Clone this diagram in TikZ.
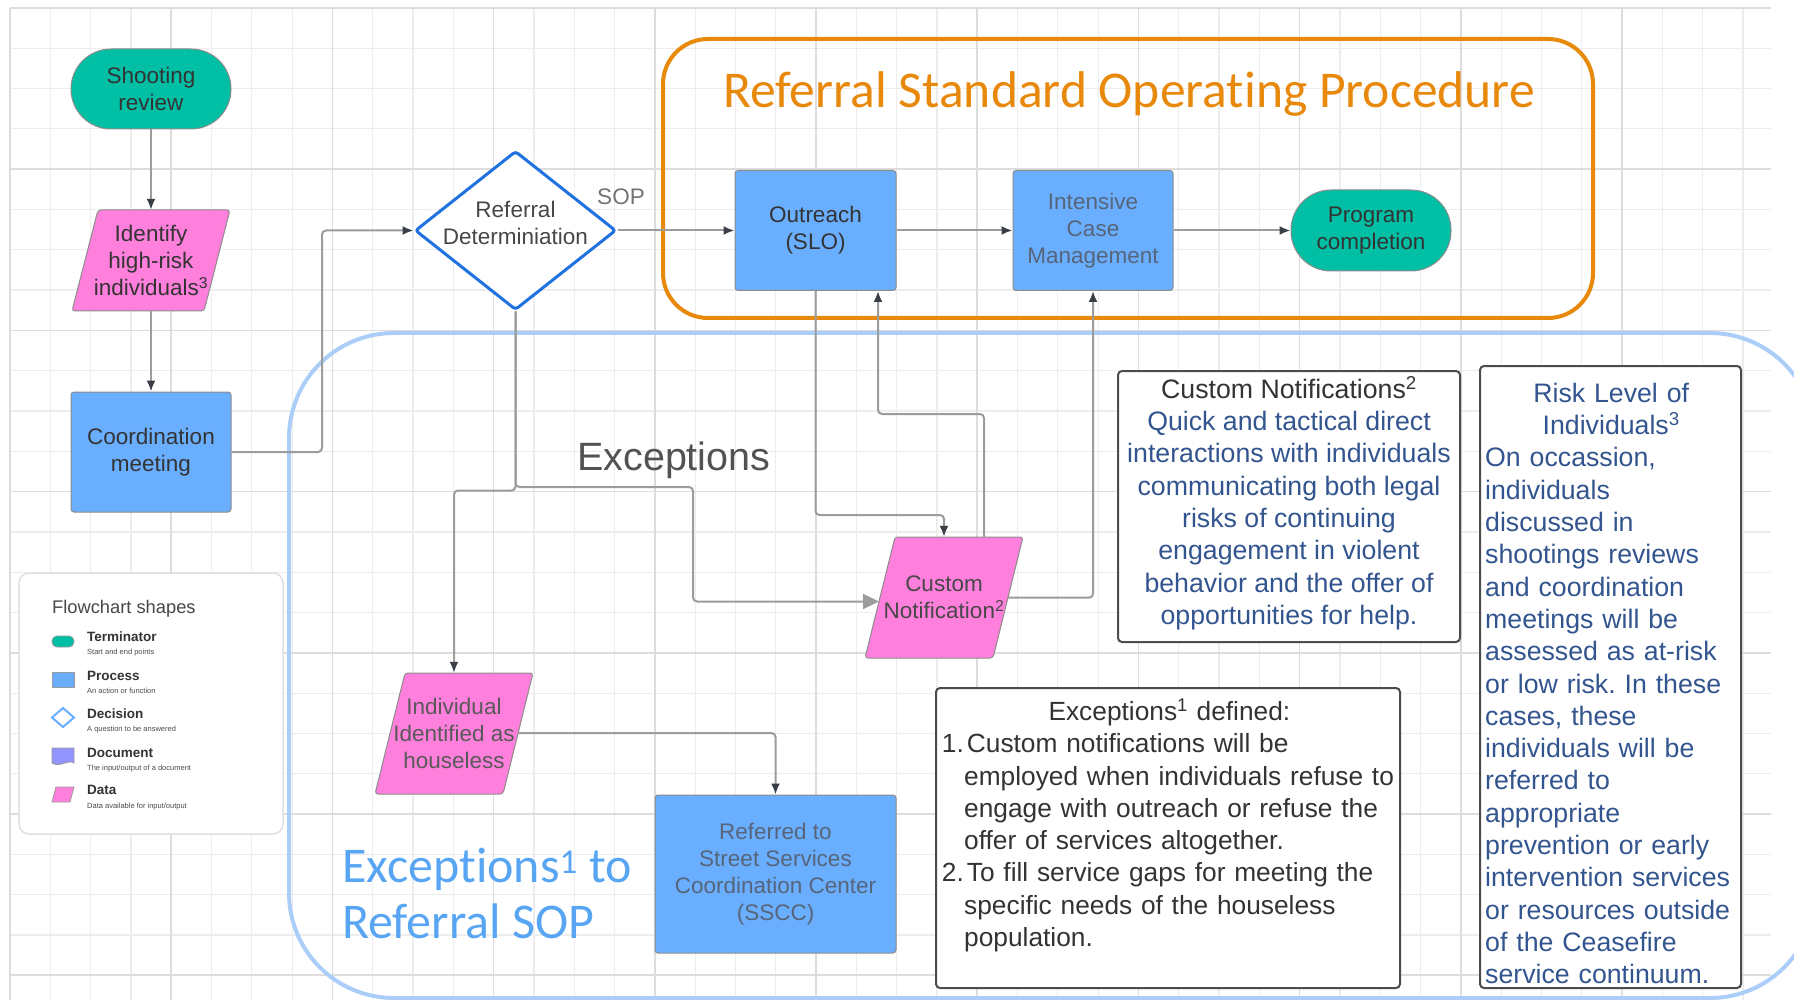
\documentclass[tikz,border=0pt]{standalone}
\usepackage{fontspec}
\setmainfont{Liberation Sans}
\newfontfamily\calib[Ligatures=NoCommon]{Carlito}
\usetikzlibrary{shapes.geometric,arrows.meta,calc}
\definecolor{teal1}{HTML}{00BFA5}
\definecolor{procblue}{HTML}{6AAEFF}
\definecolor{pinkd}{HTML}{FF7FDC}
\definecolor{orng}{HTML}{E8890C}
\definecolor{lblue}{HTML}{ABCEF9}
\definecolor{dblue}{HTML}{1F72E0}
\definecolor{conng}{HTML}{9C9C9C}
\definecolor{tipc}{HTML}{3A3F47}
\definecolor{txtd}{HTML}{333333}
\definecolor{txtg}{HTML}{56657A}
\definecolor{txtb}{HTML}{33558F}
\definecolor{excblue}{HTML}{58A6F3}
\definecolor{gridminor}{HTML}{EDEDED}
\definecolor{gridmajor}{HTML}{DDDDDD}
\definecolor{docpurple}{HTML}{9393FF}
\newcommand{\fsz}[2]{\fontsize{#1}{#2}\selectfont}
\frenchspacing
\begin{document}
\begin{tikzpicture}[x=1pt,y=-1pt,
  conn/.style={draw=conng, line width=2pt, rounded corners=4pt},
  arr/.style={-{Latex[length=11pt,width=9pt,color=tipc]}},
  bigarr/.style={-{Triangle[length=16pt,width=15pt,color=conng]}},
  nodetext/.style={align=center, inner sep=0pt, text=txtd, font=\fsz{22.5pt}{27pt}},
  proc/.style={nodetext, draw=black!45, line width=1pt, fill=procblue, rounded corners=3pt},
  term/.style={nodetext, draw=black!45, line width=1pt, fill=teal1, rounded corners=40pt, minimum width=160pt, minimum height=80pt},
  datashape/.style={draw=black!45, line width=1pt, fill=pinkd, rounded corners=3pt},
  infobox/.style={draw=black!70, line width=2pt, fill=white, rounded corners=4pt, inner sep=0pt},
  bodytext/.style={inner sep=0pt, font=\fsz{26.7pt}{32.3pt}},
  leglabel/.style={anchor=base west, inner sep=0pt, text=txtd, font=\bfseries\fsz{13.5pt}{16pt}},
  legsub/.style={anchor=base west, inner sep=0pt, text=black!70, font=\fsz{7.5pt}{9pt}}
]
\useasboundingbox (0,0) rectangle (1794,1000);
\fill[white] (0,0) rectangle (1794,1000);

% grid
\foreach \i in {0,...,43} {
  \pgfmathsetmacro\xx{10+40.3*\i}
  \draw[gridminor, line width=1.2pt] (\xx,8) -- (\xx,1000);
}
\foreach \j in {0,...,24} {
  \pgfmathsetmacro\yy{8+40.3*\j}
  \draw[gridminor, line width=1.2pt] (10,\yy) -- (1771,\yy);
}
\foreach \i in {0,...,10} {
  \pgfmathsetmacro\xx{10+161.2*\i}
  \draw[gridmajor, line width=1.6pt] (\xx,8) -- (\xx,1000);
}
\foreach \j in {0,...,6} {
  \pgfmathsetmacro\yy{8+161.2*\j}
  \draw[gridmajor, line width=1.6pt] (10,\yy) -- (1771,\yy);
}

% containers
\draw[lblue, line width=4pt, rounded corners=105pt] (289,333) rectangle (1815,998);
\draw[orng, line width=4pt, rounded corners=45pt] (663,39) rectangle (1593,318);

\node[anchor=base, inner sep=0pt, text=orng, font=\calib\fsz{51.6pt}{60pt}] (title) at (1129,108) {Referral Standard Operating Procedure};

% legend
\node[draw=black!12, line width=1.5pt, fill=white, rounded corners=10pt, minimum width=264pt, minimum height=261pt, inner sep=0pt] (legend) at (151,703.5) {};
\node[anchor=base west, inner sep=0pt, text=black!72, font=\fsz{18.3pt}{22pt}] (legtitle) at (52,613) {Flowchart shapes};
\fill[teal1, draw=black!40, line width=0.8pt, rounded corners=5pt] (52,636) rectangle (74,647);
\node[leglabel] (lterm) at (87,641.5) {Terminator};
\node[legsub] (lterms) at (87,654) {Start and end points};
\fill[procblue, draw=black!40, line width=0.8pt] (52,672) rectangle (74,687);
\node[leglabel] (lproc) at (87,680) {Process};
\node[legsub] (lprocs) at (87,693) {An action or function};
\draw[procblue, line width=2pt, fill=white] (63,708) -- (74,717.5) -- (63,727) -- (52,717.5) -- cycle;
\node[leglabel] (ldec) at (87,718) {Decision};
\node[legsub] (ldecs) at (87,731) {A question to be answered};
\filldraw[fill=docpurple, draw=black!40, line width=0.8pt] (52,748) -- (74,748) -- (74,763) .. controls (68,759) and (60,768) .. (52,763) -- cycle;
\node[leglabel] (ldoc) at (87,757) {Document};
\node[legsub] (ldocs) at (87,770) {The input/output of a document};
\filldraw[fill=pinkd, draw=black!40, line width=0.8pt] (56,787) -- (74,787) -- (70,802) -- (52,802) -- cycle;
\node[leglabel] (ldata) at (87,794) {Data};
\node[legsub] (ldatas) at (87,808) {Data available for input/output};

% parallelogram shapes
\filldraw[datashape] (98,210) -- (230,210) -- (204,311) -- (72,311) -- cycle;
\filldraw[datashape] (405,673) -- (533,673) -- (503,794) -- (375,794) -- cycle;
\filldraw[datashape] (895,537) -- (1023,537) -- (993,658) -- (865,658) -- cycle;

% nodes
\node[term] (shoot) at (151,89) {Shooting\\review};
\node[nodetext, minimum width=130pt, minimum height=101pt] (ident) at (151,260.5) {Identify\\high-risk\\individuals\textsuperscript{3}};
\node[proc, minimum width=160pt, minimum height=120pt] (coord) at (151,452) {Coordination\\meeting};
\node[diamond, draw=dblue, line width=3pt, fill=white, minimum width=201pt, minimum height=159pt, inner sep=0pt, rounded corners=3pt] (diam) at (515.5,230.5) {};
\node[nodetext, text=black!72] (diamtext) at (515.5,222.5) {Referral\\Determiniation};
\node[nodetext, text=black!55] (sop) at (621,197) {SOP};
\node[proc, minimum width=161pt, minimum height=120pt] (outreach) at (815.5,230.5) {Outreach\\(SLO)};
\node[proc, minimum width=160pt, minimum height=120pt, text=txtg] (icm) at (1093,230.5) {Intensive\\Case\\Management};
\node[term, minimum height=81pt] (prog) at (1371,230.5) {Program\\completion};
\node[nodetext, text=black!72, minimum width=128pt, minimum height=121pt] (cn) at (944,597.5) {Custom\\Notification\textsuperscript{2}};
\node[nodetext, text=black!65, minimum width=128pt, minimum height=121pt] (indiv) at (454,733.5) {Individual\\Identified as\\houseless};
\node[proc, minimum width=241pt, minimum height=158pt, text=txtg] (sscc) at (775.5,874) {Referred to\\Street Services\\Coordination Center\\(SSCC)};

\coordinate (cnL) at (879,601.5);
\coordinate (cnR) at (1008,597.7);
\coordinate (cnT) at (984,537);
\coordinate (indR) at (518,733);

% connectors
\draw[conn, arr] (shoot.south) -- (ident.north);
\draw[conn, arr] (ident.south) -- (coord.north);
\draw[conn, arr] (coord.east) -- (322,452) |- (diam.west);
\draw[conn, arr] (diam.east) -- (outreach.west);
\draw[conn, arr] (outreach.east) -- (icm.west);
\draw[conn, arr] (icm.east) -- (prog.west);
\draw[conn, arr] (diam.south) -- (515.5,490.5) -| (indiv.north);
\draw[conn, bigarr] (diam.south) -- (515.5,487) -- (693,487) |- (cnL);
\draw[conn, arr] (outreach.south) -- (815.5,515) -| (cn.north);
\draw[conn, arr] (cnT) |- (878,414) -- (878,414 |- outreach.south);
\draw[conn, arr] (cnR) -| (icm.south);
\draw[conn, arr] (indR) -| (sscc.north);

\node[anchor=base west, inner sep=0pt, text=black!68, font=\fsz{39.5pt}{46pt}] (exclabel) at (577,470) {Exceptions};

% info boxes
\node[infobox, minimum width=342pt, minimum height=271pt] (cnbox) at (1289,506.5) {};
\node[bodytext, anchor=north, align=center, text=txtb] (cntext) at (1289,375.4) {\strut\textcolor{txtd}{Custom Notifications\textsuperscript{2}}\\Quick and tactical direct\\interactions with individuals\\communicating both legal\\risks of continuing\\engagement in violent\\behavior and the offer of\\opportunities for help.\strut};

\node[infobox, minimum width=464pt, minimum height=300pt] (exdbox) at (1168,838) {};
\node[bodytext, anchor=north west, align=left, text width=500pt, text=txtd, font=\fsz{26.3pt}{32.3pt}] (exdtext) at (941.7,697.6) {\strut\makebox[455pt]{Exceptions\textsuperscript{1} defined:}\\\makebox[25pt][l]{1.}Custom notifications will be\\\hspace*{22.3pt}employed when individuals refuse to\\\hspace*{22.3pt}engage with outreach or refuse the\\\hspace*{22.3pt}offer of services altogether.\\\makebox[25pt][l]{2.}To fill service gaps for meeting the\\\hspace*{22.3pt}specific needs of the houseless\\\hspace*{22.3pt}population.\strut};

\node[infobox, minimum width=261pt, minimum height=622pt] (riskbox) at (1610.5,677) {};
\node[bodytext, anchor=north west, align=left, text width=252pt, text=txtb] (risktext) at (1485,379.5) {\strut\makebox[252pt]{Risk Level of}\\\makebox[252pt]{Individuals\textsuperscript{3}}\\On occassion,\\individuals\\discussed in\\shootings reviews\\and coordination\\meetings will be\\assessed as at-risk\\or low risk. In these\\cases, these\\individuals will be\\referred to\\appropriate\\prevention or early\\intervention services\\or resources outside\\of the Ceasefire\\service continuum.\strut};

\node[anchor=north west, align=left, inner sep=0pt, text=excblue, font=\calib\fsz{50pt}{56pt}] (exctitle) at (342,842.8) {\strut Exceptions\textsuperscript{1} to\\Referral SOP\strut};
\end{tikzpicture}
\end{document}
